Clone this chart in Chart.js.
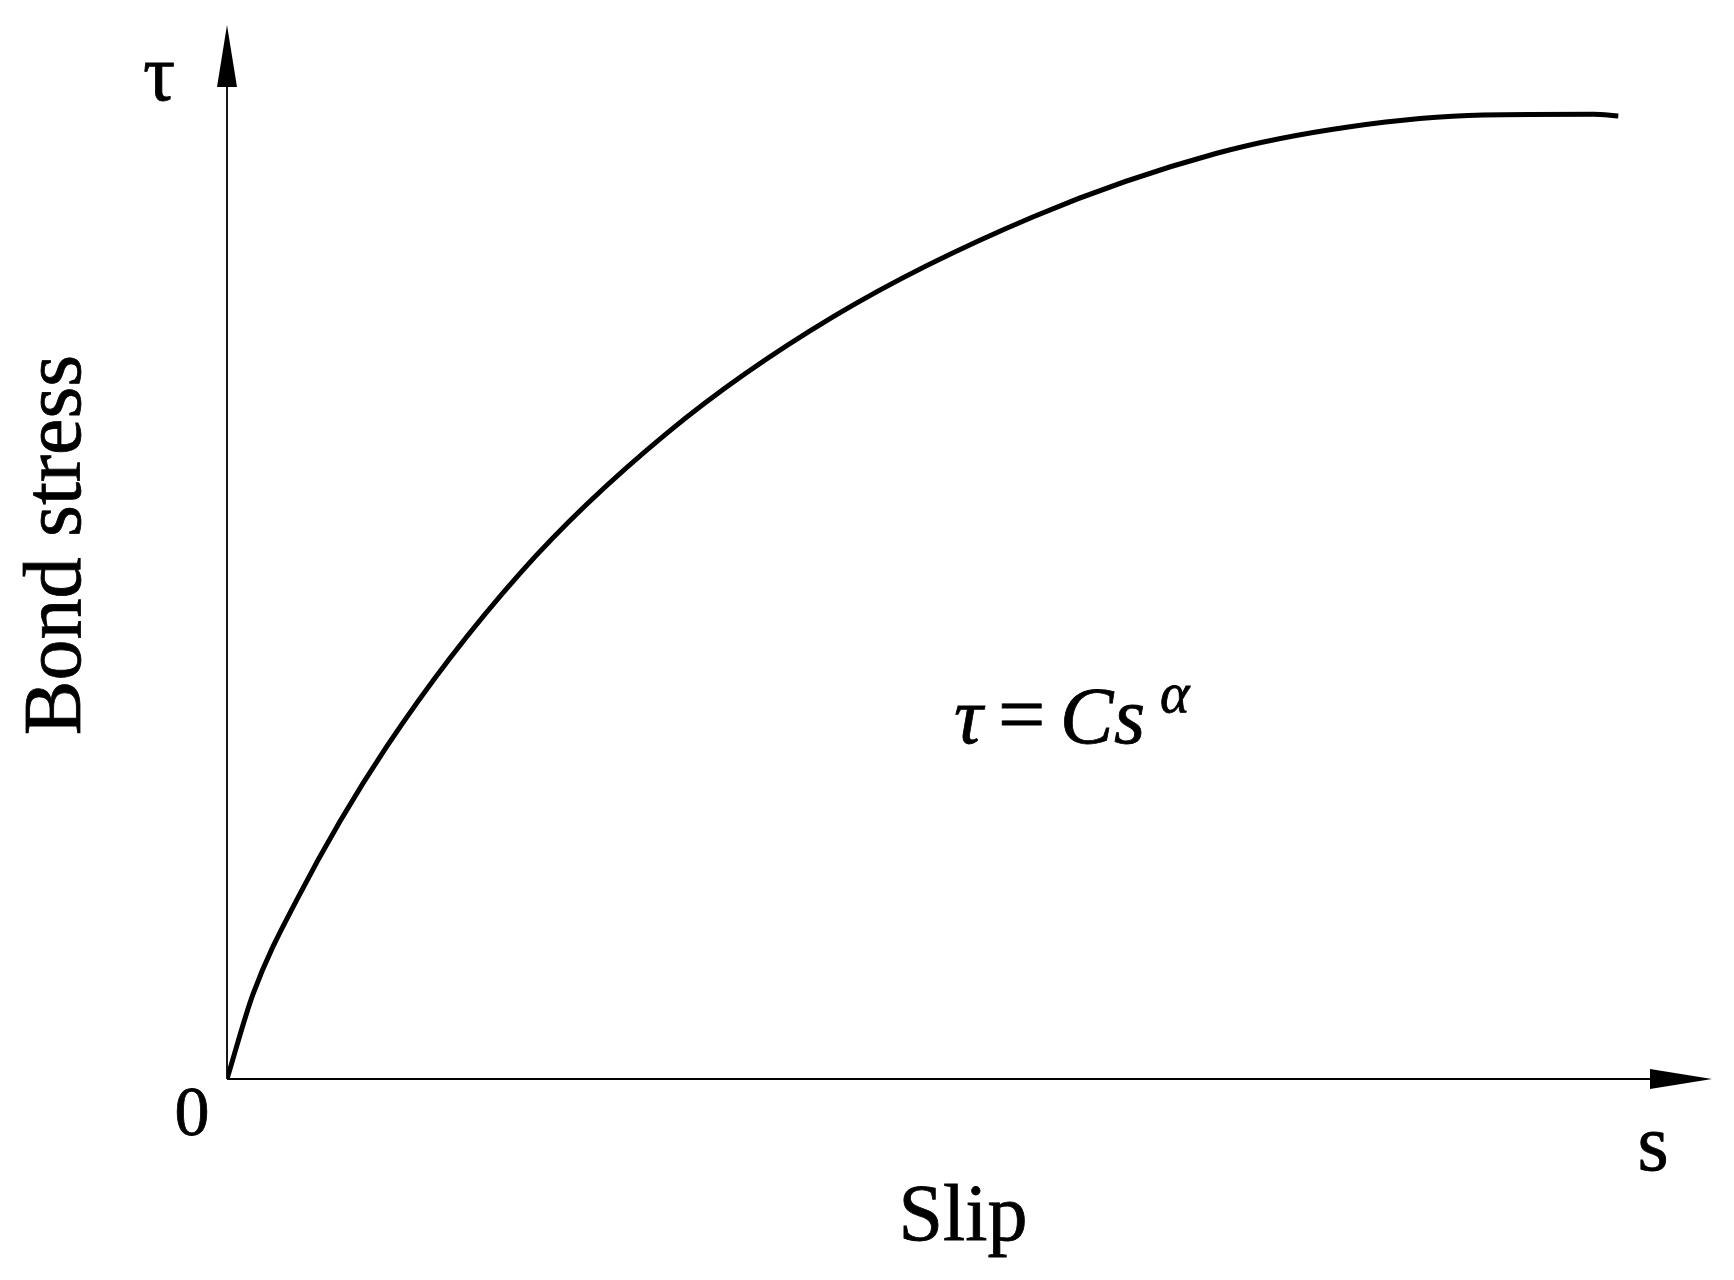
<!DOCTYPE html>
<html>
<head>
<meta charset="utf-8">
<script src="https://cdn.jsdelivr.net/npm/chart.js@4.4.1/dist/chart.umd.min.js"></script>
<style>
  html, body { margin: 0; padding: 0; background: #fff; }
  #wrap { width: 1734px; height: 1280px; }
</style>
</head>
<body>
<div id="wrap"><canvas id="bondChart" width="1734" height="1280"></canvas></div>
<script>
// slip (s) and bond stress (tau), arbitrary units
const slip = [0, 0.177, 0.469, 1.075, 1.973, 2.961, 4.083, 5.430, 6.665, 7.562, 8.460, 9.201, 9.369];
const bondStress = [0, 0.813, 1.698, 3.153, 4.798, 6.126, 7.233, 8.181, 8.783, 9.035, 9.146, 9.153, 9.137];
const axisMax = 10;

const serif = "'Liberation Serif', 'Times New Roman', serif";

function label(ctx, txt, x, y, font) {
  ctx.font = font + serif;
  ctx.fillText(txt, x, y);
  ctx.strokeText(txt, x, y);
}

// axes with arrow heads + labels
const axesPlugin = {
  id: "axesPlugin",
  afterDraw: function (chart) {
    const ctx = chart.ctx;
    const x = chart.scales.x;
    const y = chart.scales.y;
    const x0 = x.getPixelForValue(0);
    const y0 = y.getPixelForValue(0);
    const xEnd = x.getPixelForValue(axisMax);
    const yEnd = y.getPixelForValue(axisMax);

    ctx.save();
    ctx.strokeStyle = "#000";
    ctx.fillStyle = "#000";
    ctx.lineWidth = 1.8;

    ctx.beginPath();
    ctx.moveTo(x0, y0);
    ctx.lineTo(xEnd - 55, y0);
    ctx.moveTo(x0, y0);
    ctx.lineTo(x0, yEnd + 55);
    ctx.stroke();

    // x arrow
    ctx.beginPath();
    ctx.moveTo(xEnd, y0);
    ctx.lineTo(xEnd - 62, y0 - 10);
    ctx.lineTo(xEnd - 62, y0 + 10);
    ctx.closePath();
    ctx.fill();

    // y arrow
    ctx.beginPath();
    ctx.moveTo(x0, yEnd);
    ctx.lineTo(x0 - 10, yEnd + 62);
    ctx.lineTo(x0 + 10, yEnd + 62);
    ctx.closePath();
    ctx.fill();

    ctx.lineWidth = 0.8;
    ctx.textAlign = "center";
    ctx.textBaseline = "alphabetic";
    label(ctx, "τ", 159, 100, "80px ");
    label(ctx, "s", 1653, 1170, "80px ");
    label(ctx, "Slip", 963, 1240, "80px ");
    label(ctx, "0", 192, 1135, "70px ");

    ctx.save();
    ctx.translate(80, 545);
    ctx.rotate(-Math.PI / 2);
    label(ctx, "Bond stress", 0, 0, "82px ");
    ctx.restore();

    // formula tau = C s^alpha
    ctx.textAlign = "left";
    label(ctx, "τ", 954, 743, "italic 80px ");
    label(ctx, "=", 998, 743, "84px ");
    label(ctx, "C", 1060, 743, "italic 80px ");
    label(ctx, "s", 1114, 743, "italic 80px ");
    label(ctx, "α", 1160, 712, "italic 56px ");
    ctx.restore();
  }
};

const ctx = document.getElementById("bondChart").getContext("2d");
const bondChart = new Chart(ctx, {
  type: "scatter",
  data: {
    datasets: [
      {
        label: "Bond stress",
        data: slip.map(function (s, i) { return { x: s, y: bondStress[i] }; }),
        showLine: true,
        borderColor: "#000",
        borderWidth: 5,
        pointRadius: 0,
        cubicInterpolationMode: "monotone",
        fill: false
      }
    ]
  },
  options: {
    responsive: false,
    animation: false,
    layout: { padding: { left: 227, right: 22, top: 25, bottom: 201 } },
    plugins: {
      legend: { display: false },
      tooltip: { enabled: false }
    },
    scales: {
      x: { type: "linear", min: 0, max: axisMax, display: false },
      y: { type: "linear", min: 0, max: axisMax, display: false }
    }
  },
  plugins: [axesPlugin]
});
</script>
</body>
</html>
